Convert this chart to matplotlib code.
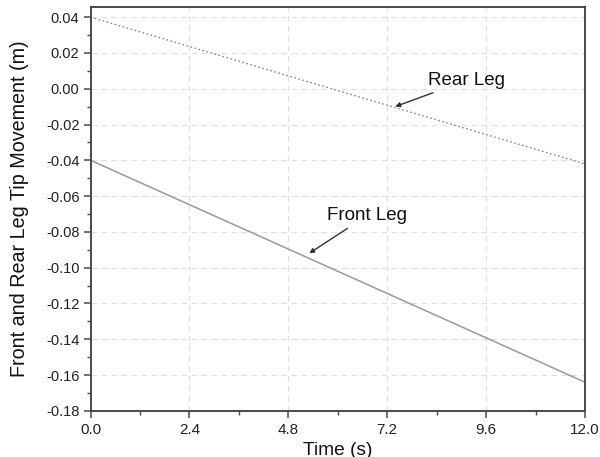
import numpy as np
import matplotlib.pyplot as plt
from matplotlib.ticker import MultipleLocator, FormatStrFormatter

plt.rcParams['font.family'] = ['Liberation Sans', 'DejaVu Sans']

# leg tip trajectories (straight lines), end points read at t = 0 and t = 12 s
time_s = [0.0, 12.0]
rear_leg = [0.040, -0.042]
front_leg = [-0.040, -0.164]

fig = plt.figure(figsize=(6.0, 4.57), dpi=100)
ax = fig.add_axes([0.151, 0.101, 0.824, 0.883])

ax.plot(time_s, rear_leg, linestyle=(0, (1.2, 1.8)), color='#8c8c8c', linewidth=1.0)
ax.plot(time_s, front_leg, linestyle='-', color='#9a9a9a', linewidth=1.1)

ax.set_xlim(0, 12)
ax.set_ylim(-0.18, 0.0455)
ax.xaxis.set_major_locator(MultipleLocator(2.4))
ax.xaxis.set_minor_locator(MultipleLocator(1.2))
ax.yaxis.set_major_locator(MultipleLocator(0.02))
ax.yaxis.set_minor_locator(MultipleLocator(0.01))
ax.xaxis.set_major_formatter(FormatStrFormatter('%.1f'))
ax.yaxis.set_major_formatter(FormatStrFormatter('%.2f'))

ax.grid(True, which='major', linestyle=(0, (5, 4)), color='#dedede', linewidth=0.8)
ax.set_axisbelow(True)

for s in ax.spines.values():
    s.set_color('#4a4a4a')
    s.set_linewidth(1.4)
ax.tick_params(which='major', direction='out', length=5, width=1.1, color='#4a4a4a',
               pad=3, labelcolor='#222222')
ax.tick_params(axis='y', which='major', labelsize=10.5)
ax.tick_params(axis='x', which='major', labelsize=11, pad=4)
ax.tick_params(which='minor', direction='out', length=3, width=1.0, color='#4a4a4a')

ax.set_xlabel('Time (s)', fontsize=13.8, color='#111111')
ax.set_ylabel('Front and Rear Leg Tip Movement (m)', fontsize=14.2, color='#111111')
ax.xaxis.set_label_coords(0.5, -0.076)
ax.yaxis.set_label_coords(-0.124, 0.5)

arrow = dict(arrowstyle='-|>', color='#333333', lw=1.0, mutation_scale=7, shrinkA=2)
ax.annotate('Rear Leg', xy=(7.33, -0.0105), xytext=(8.19, 0.0046),
            fontsize=13.5, color='#111111', arrowprops=arrow, ha='left', va='center')
ax.annotate('Front Leg', xy=(5.25, -0.0928), xytext=(5.74, -0.0709),
            fontsize=13.5, color='#111111', arrowprops=arrow, ha='left', va='center')

fig.savefig('out.png', dpi=100)
